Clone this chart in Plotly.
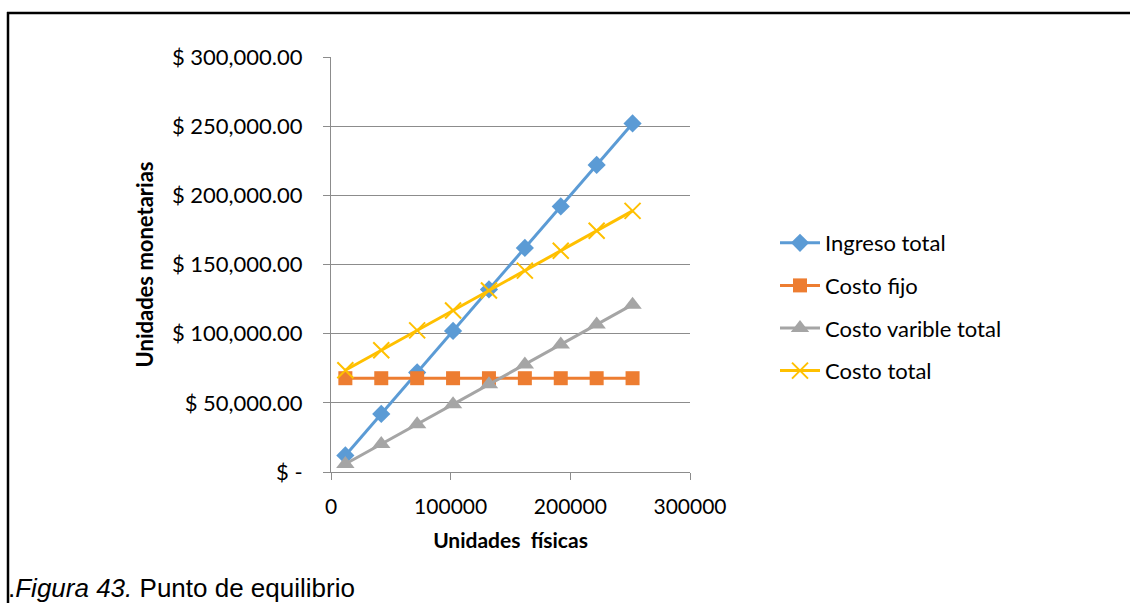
import plotly.graph_objects as go

# Break-even data
unidades = [12000, 42000, 72000, 102000, 132000, 162000, 192000, 222000, 252000]
ingreso_total = [12000, 42000, 72000, 102000, 132000, 162000, 192000, 222000, 252000]
costo_fijo = [67800, 67800, 67800, 67800, 67800, 67800, 67800, 67800, 67800]
costo_variable = [5760, 20160, 34560, 48960, 63360, 77760, 92160, 106560, 120960]
costo_total = [73560, 87960, 102360, 116760, 131160, 145560, 159960, 174360, 188760]

y_tickvals = [0, 50000, 100000, 150000, 200000, 250000, 300000]
y_ticktext = ["$ -", "$ 50,000.00", "$ 100,000.00", "$ 150,000.00",
              "$ 200,000.00", "$ 250,000.00", "$ 300,000.00"]
x_tickvals = [0, 100000, 200000, 300000]
x_ticktext = ["0", "100000", "200000", "300000"]

W, H = 1130, 603
L, R, T, B = 331, 690, 57, 472  # plot area in pixels

def px_x(px):
    return (px - L) / (R - L)

def px_y(py):
    return (B - py) / (B - T)

FONT = "Lato"
GRID = "#8c8c8c"

fig = go.Figure()

series = [
    ("Ingreso total", ingreso_total, "#5B9BD5", dict(symbol="diamond", size=14)),
    ("Costo fijo", costo_fijo, "#ED7D31", dict(symbol="square", size=14)),
    ("Costo varible total", costo_variable, "#A5A5A5", dict(symbol="triangle-up", size=16)),
    ("Costo total", costo_total, "#FFC000", dict(symbol="x-thin-open", size=16, line=dict(width=2, color="#FFC000"))),
]
for i, (name, vals, color, marker) in enumerate(series):
    m = dict(color=color, **marker)
    fig.add_trace(go.Scatter(
        x=unidades, y=vals, name=name, mode="lines+markers",
        line=dict(color=color, width=3), marker=m,
        legendgroup=f"g{i}",
    ))

fig.update_layout(
    width=W, height=H,
    margin=dict(l=L, r=W - R, t=T, b=H - B),
    paper_bgcolor="white", plot_bgcolor="white",
    font=dict(family=FONT, color="#000000", size=22),
    showlegend=True,
    legend=dict(
        x=px_x(775), y=px_y(222), xanchor="left", yanchor="top",
        font=dict(family=FONT, size=22, color="#000000"),
        tracegroupgap=11, traceorder="grouped",
        itemwidth=40, bgcolor="rgba(0,0,0,0)",
    ),
    xaxis=dict(
        range=[0, 300000], tickvals=x_tickvals, ticktext=x_ticktext,
        showgrid=False, zeroline=False,
        showline=True, linecolor=GRID, linewidth=1,
        ticks="outside", ticklen=7, tickcolor=GRID,
        tickfont=dict(family=FONT, size=21),
        ticklabelstandoff=9,
        title=dict(text="<b>Unidades  físicas</b>", font=dict(family=FONT, size=21), standoff=16),
    ),
    yaxis=dict(
        range=[0, 300000], tickvals=y_tickvals, ticktext=y_ticktext,
        showgrid=True, gridcolor=GRID, gridwidth=1, zeroline=False,
        showline=True, linecolor=GRID, linewidth=1,
        ticks="outside", ticklen=7, tickcolor=GRID,
        tickfont=dict(family=FONT, size=22),
        ticklabelstandoff=16,
        title=dict(text="<b>Unidades monetarias</b>", font=dict(family=FONT, size=22), standoff=12),
    ),
)

# Frame lines (top and left)
fig.add_shape(type="line", xref="paper", yref="paper",
              x0=px_x(7), x1=px_x(W), y0=px_y(13), y1=px_y(13),
              line=dict(color="black", width=2.5))
fig.add_shape(type="line", xref="paper", yref="paper",
              x0=px_x(8), x1=px_x(8), y0=px_y(12), y1=px_y(H + 5),
              line=dict(color="black", width=2.5))

# Caption
fig.add_annotation(
    xref="paper", yref="paper", x=px_x(6), y=px_y(588),
    xanchor="left", yanchor="middle", showarrow=False,
    text=".<i>Figura 43.</i> Punto de equilibrio",
    font=dict(family="Liberation Sans", size=26, color="#000000"),
)

fig.write_html("out.html")
